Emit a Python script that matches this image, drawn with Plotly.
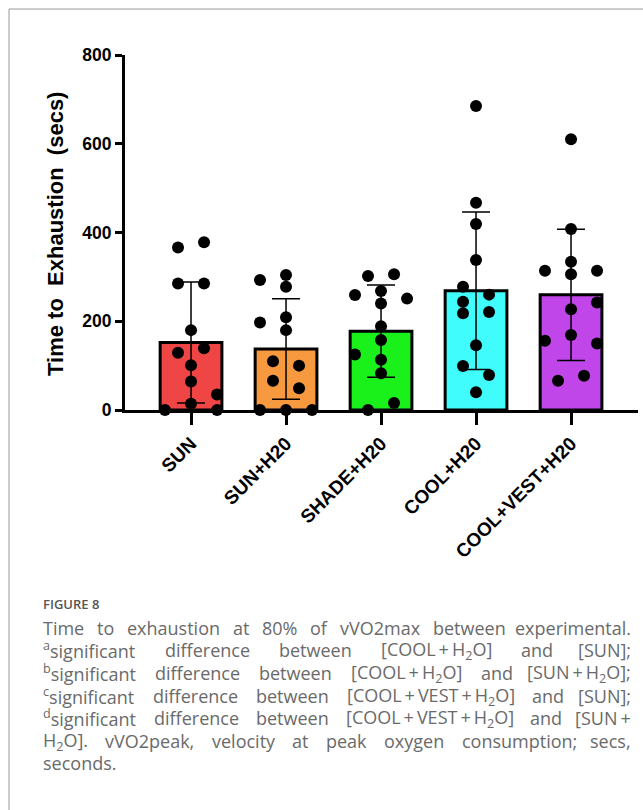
import re
import numpy as np
import plotly.graph_objects as go

# ---------------- data ----------------
categories = ["SUN", "SUN+H20", "SHADE+H20", "COOL+H20", "COOL+VEST+H20"]
sun = [366, 378, 285, 285, 180, 129, 139, 101, 64, 35, 14, 0, 0]
sun_h2o = [293, 304, 278, 197, 209, 180, 110, 100, 66, 49, 0, 0, 0]
shade_h2o = [302, 306, 268, 259, 251, 240, 189, 158, 125, 113, 83, 16, 0]
cool_h2o = [685, 467, 419, 338, 278, 260, 244, 218, 221, 146, 99, 79, 40]
cool_vest_h2o = [610, 408, 334, 314, 306, 314, 242, 227, 169, 156, 150, 77, 66]
y_ticks = [0, 200, 400, 600, 800]

# swarm slot (layout) for each dot, same order as the values
sun_slots = [-1, 1, -1, 1, 0, -1, 1, 0, 0, 2, 0, -2, 2]
sun_h2o_slots = [-2, 0, 0, -2, 0, 0, -1, 1, -1, 1, -2, 0, 2]
shade_h2o_slots = [-1, 1, 0, -2, 2, 0, 0, 0, -2, 0, 0, 1, -1]
cool_h2o_slots = [0, 0, 0, 0, -1, 1, -1, -1, 1, 0, -1, 1, 0]
cool_vest_h2o_slots = [0, 0, 0, -2, 0, 2, 2, 0, 0, -2, 2, 1, -1]

groups = [sun, sun_h2o, shade_h2o, cool_h2o, cool_vest_h2o]
slots = [sun_slots, sun_h2o_slots, shade_h2o_slots, cool_h2o_slots, cool_vest_h2o_slots]
colors = ["#F04545", "#F7993F", "#1AF01A", "#40FCFC", "#C146EA"]

means = [float(np.mean(g)) for g in groups]
sds = [float(np.std(g, ddof=1)) for g in groups]
xs = list(range(len(categories)))

W, H = 643, 810
L, R, T, B = 125, 638, 55, 410  # plot area in pixels


def px(x):
    return (x - L) / (R - L)


def py(y):
    return (B - y) / (B - T)


fig = go.Figure()
fig.add_trace(go.Bar(
    x=xs, y=means, width=0.65,
    marker=dict(color=colors, line=dict(color="black", width=3)),
    error_y=dict(type="data", array=sds, color="black", thickness=1.5, width=14),
    showlegend=False,
))

slot_w = 0.137
dot_x, dot_y = [], []
for i, (g, s) in enumerate(zip(groups, slots)):
    for v, k in zip(g, s):
        dot_x.append(i + k * slot_w)
        dot_y.append(v)
fig.add_trace(go.Scatter(
    x=dot_x, y=dot_y, mode="markers",
    marker=dict(color="black", size=12),
    cliponaxis=False, showlegend=False,
))

fig.update_xaxes(
    range=[-0.695, 4.705], tickvals=xs, ticktext=categories, tickangle=-45,
    showline=True, linecolor="black", linewidth=3, ticks="outside", ticklen=12,
    tickwidth=3, tickcolor="black", showgrid=False, zeroline=False,
    tickfont=dict(family="Liberation Sans, Arial", size=19, color="black", weight="bold"),
)
fig.update_yaxes(
    range=[0, 800], tickvals=y_ticks, showline=True, linecolor="black", linewidth=3,
    ticks="outside", ticklen=7, tickwidth=3, tickcolor="black", showgrid=False,
    zeroline=False,
    tickfont=dict(family="Liberation Sans, Arial", size=17.5, color="black", weight="bold"),
)

annotations = []
annotations.append(dict(
    text="<b>Time to\u00a0 Exhaustion\u00a0 (secs)</b>", textangle=-90,
    x=px(55), y=py(234), xref="paper", yref="paper", showarrow=False,
    xanchor="center", yanchor="middle",
    font=dict(family="Liberation Sans, Arial", size=22, color="black"),
))

annotations.append(dict(
    text="FIGURE 8", x=px(41), y=py(604), xref="paper", yref="paper",
    showarrow=False, xanchor="left", yanchor="middle",
    font=dict(family="Open Sans", size=13, color="#555555", weight=600),
))

# ---- caption, justified word by word ----
CAP_SIZE = 18
cap_font = dict(family="Open Sans", size=CAP_SIZE, color="#6a6a6a")
CW = {
    'a': .556, 'b': .613, 'c': .48, 'd': .613, 'e': .561, 'f': .336, 'g': .548, 'h': .614,
    'i': .258, 'j': .258, 'k': .534, 'l': .258, 'm': .932, 'n': .614, 'o': .603, 'p': .613,
    'q': .613, 'r': .409, 's': .477, 't': .353, 'u': .614, 'v': .501, 'w': .778, 'x': .524,
    'y': .501, 'z': .461, 'C': .632, 'O': .78, 'L': .519, 'H': .738, 'S': .549, 'U': .729,
    'N': .754, 'V': .593, 'E': .556, 'T': .556, 'F': .511, 'I': .326, 'G': .728, 'R': .617,
    '[': .329, ']': .329, '+': .571, '%': .823, ';': .268, '.': .266, ',': .25, '(': .297,
    ')': .297, ' ': .26, '\u2009': .15,
}
for d in "0123456789":
    CW[d] = .571


def text_width(t):
    w = 0.0
    for part in re.split(r"(<su[bp]>.*?</su[bp]>)", t):
        if part.startswith("<su"):
            inner = re.sub(r"<.*?>", "", part)
            w += 0.7 * sum(CW.get(c, .55) for c in inner)
        else:
            w += sum(CW.get(c, .55) for c in part)
    return w * CAP_SIZE


LEFT, RIGHT = 41, 633
caption_lines = [
    (628, ["Time", "to", "exhaustion", "at", "80%", "of", "vVO2max", "between",
           "experimental."], True),
    (650, ["<sup>a</sup>significant", "difference", "between",
           "[COOL\u2009+\u2009H<sub>2</sub>O]", "and", "[SUN];"], True),
    (673, ["<sup>b</sup>significant", "difference", "between",
           "[COOL\u2009+\u2009H<sub>2</sub>O]", "and", "[SUN\u2009+\u2009H<sub>2</sub>O];"], True),
    (696, ["<sup>c</sup>significant", "difference", "between",
           "[COOL\u2009+\u2009VEST\u2009+\u2009H<sub>2</sub>O]", "and", "[SUN];"], True),
    (718, ["<sup>d</sup>significant", "difference", "between",
           "[COOL\u2009+\u2009VEST\u2009+\u2009H<sub>2</sub>O]", "and", "[SUN\u2009+"], True),
    (741, ["H<sub>2</sub>O].", "vVO2peak,", "velocity", "at", "peak", "oxygen",
           "consumption;", "secs,"], True),
    (763, ["seconds."], False),
]
for yline, words, justify in caption_lines:
    widths = [text_width(w) for w in words]
    if justify and len(words) > 1:
        gap = (RIGHT - LEFT - sum(widths)) / (len(words) - 1)
    else:
        gap = CW[' '] * CAP_SIZE
    xcur = LEFT
    for k, (w, wd) in enumerate(zip(words, widths)):
        last = justify and k == len(words) - 1 and len(words) > 1
        annotations.append(dict(
            text=w, x=px(RIGHT if last else xcur), y=py(yline), xref="paper", yref="paper",
            showarrow=False, xanchor="right" if last else "left", yanchor="middle",
            font=cap_font,
        ))
        xcur += wd + gap

shapes = [
    dict(type="line", xref="paper", yref="paper", x0=px(9), x1=px(643), y0=py(9), y1=py(9),
         line=dict(color="#9a9a9a", width=1)),
    dict(type="line", xref="paper", yref="paper", x0=px(9), x1=px(9), y0=py(9), y1=py(810),
         line=dict(color="#9a9a9a", width=1)),
]

fig.update_layout(
    width=W, height=H, margin=dict(l=L, r=W - R, t=T, b=H - B, pad=0),
    plot_bgcolor="white", paper_bgcolor="white", annotations=annotations, shapes=shapes,
    bargap=0.35,
)
fig.write_html(
    "out.html",
    config={"displayModeBar": False},
    post_script="document.body.style.margin='0';document.body.style.overflow='hidden';",
)
